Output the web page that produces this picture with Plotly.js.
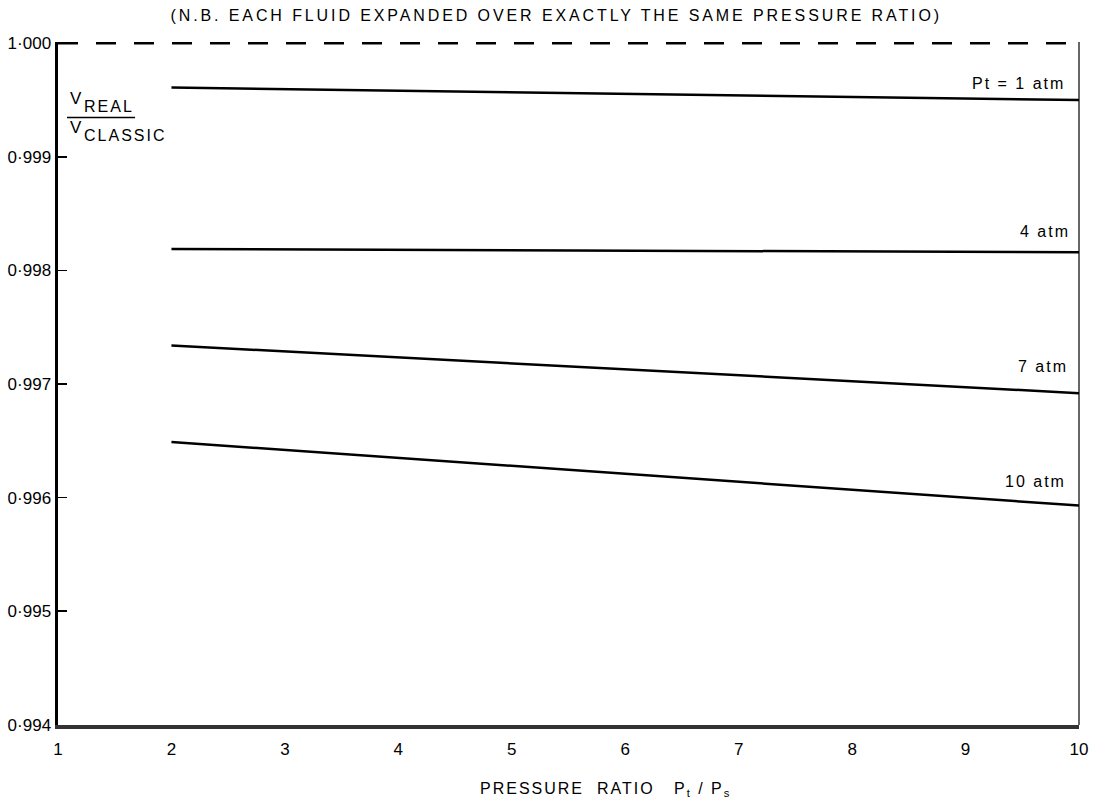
<!DOCTYPE html>
<html>
<head>
<meta charset="utf-8">
<script src="https://cdn.plot.ly/plotly-3.0.1.min.js"></script>
<style>
  body { margin: 0; background: #fff; }
  #chart { width: 1098px; height: 802px; }
  .gtitle { letter-spacing: 2.9px; }
  .annotation-text { letter-spacing: 2px; }
</style>
</head>
<body>
<div id="chart"></div>
<script>
// ---- data ----
const pressureRatio = [2, 10];
const seriesNames = ["Pt = 1 atm", "4 atm", "7 atm", "10 atm"];
const pt1atm  = [0.99961, 0.99950];
const pt4atm  = [0.99819, 0.99816];
const pt7atm  = [0.99734, 0.99692];
const pt10atm = [0.99649, 0.99593];
const classicX = [1, 10];
const classicY = [1.000, 1.000];
const yTickVals = [0.994, 0.995, 0.996, 0.997, 0.998, 0.999, 1.000];
const yTickText = ["0·994", "0·995", "0·996", "0·997", "0·998", "0·999", "1·000"];
const xTickVals = [1, 2, 3, 4, 5, 6, 7, 8, 9, 10];
const xTickText = ["1", "2", "3", "4", "5", "6", "7", "8", "9", "10"];

const FONT = "Liberation Sans, DejaVu Sans, Arial, sans-serif";
const allSeries = [pt1atm, pt4atm, pt7atm, pt10atm];
const labelShift = [17, 21, 27, 24];
const labelXShift = [-12, -7, -9, -11];

const traces = [{
  x: classicX, y: classicY, mode: "lines", type: "scatter",
  line: {color: "#000", width: 2.5, dash: "20px,18px"}, hoverinfo: "skip", showlegend: false
}];
allSeries.forEach((s, i) => traces.push({
  x: pressureRatio, y: s, mode: "lines", type: "scatter", name: seriesNames[i],
  line: {color: "#000", width: 2.5}, showlegend: false
}));

const annotations = allSeries.map((s, i) => ({
  x: pressureRatio[pressureRatio.length - 1], y: s[s.length - 1], xref: "x", yref: "y",
  text: seriesNames[i], showarrow: false, xanchor: "right", yanchor: "middle",
  xshift: labelXShift[i], yshift: labelShift[i],
  font: {family: FONT, size: 16, color: "#000"}
}));
// y-axis fraction label V_REAL / V_CLASSIC
const fracParts = [
  {t: "V", x: 0.0098, y: 0.918, s: 17},
  {t: "REAL", x: 0.0235, y: 0.905, s: 16},
  {t: "V", x: 0.0098, y: 0.8755, s: 17},
  {t: "CLASSIC", x: 0.0235, y: 0.863, s: 16}
];
fracParts.forEach(p => annotations.push({
  x: p.x, y: p.y, xref: "paper", yref: "paper", xanchor: "left", yanchor: "middle",
  text: p.t, showarrow: false, font: {family: FONT, size: p.s, color: "#000"}
}));
// x-axis title
annotations.push({
  x: 0.536, y: -0.094, xref: "paper", yref: "paper", xanchor: "center", yanchor: "middle",
  text: "PRESSURE  RATIO   P<sub>t</sub> / P<sub>s</sub>", showarrow: false,
  font: {family: FONT, size: 16, color: "#000"}
});

const layout = {
  width: 1098, height: 802,
  margin: {l: 58, r: 19, t: 42, b: 77},
  paper_bgcolor: "#fff", plot_bgcolor: "#fff",
  font: {family: FONT, size: 15, color: "#000"},
  title: {
    text: "(N.B. EACH FLUID EXPANDED OVER EXACTLY THE SAME PRESSURE RATIO)",
    font: {family: FONT, size: 16, color: "#000"},
    x: 0.488, xref: "paper", xanchor: "center", y: 0.981, yanchor: "middle"
  },
  xaxis: {
    range: [1, 10], tickvals: xTickVals, ticktext: xTickText,
    showgrid: false, zeroline: false, showline: true, linecolor: "#333", linewidth: 4,
    ticks: "", ticklabelstandoff: 6, tickfont: {family: FONT, size: 17, color: "#000"}
  },
  yaxis: {
    range: [0.9939985, 1.0000115], tickvals: yTickVals, ticktext: yTickText,
    showgrid: false, zeroline: false, showline: true, linecolor: "#000", linewidth: 3.5,
    ticks: "inside", ticklen: 9, tickwidth: 1.5, tickcolor: "#000",
    ticklabelstandoff: 0,
    tickfont: {family: FONT, size: 17, color: "#000"}
  },
  shapes: [
    {type: "line", xref: "paper", yref: "paper", x0: 1, x1: 1, y0: 0, y1: 1, line: {color: "#000", width: 1.2}},
    {type: "line", xref: "paper", yref: "paper", x0: 0.0088, x1: 0.0755, y0: 0.8895, y1: 0.8895, line: {color: "#000", width: 1.5}}
  ],
  annotations: annotations
};

Plotly.newPlot("chart", traces, layout, {displayModeBar: false, staticPlot: true});
</script>
</body>
</html>
